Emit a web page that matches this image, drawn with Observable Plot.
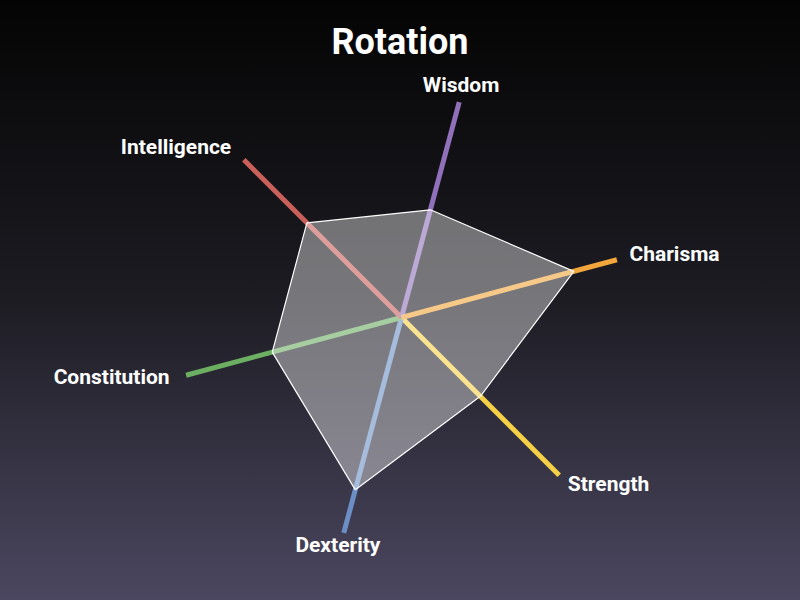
<!DOCTYPE html>
<html>
<head>
<meta charset="utf-8">
<script src="https://cdn.jsdelivr.net/npm/d3@7"></script>
<script src="https://cdn.jsdelivr.net/npm/@observablehq/plot@0.6"></script>
<style>
  html, body { margin: 0; padding: 0; }
  body {
    width: 800px; height: 600px; overflow: hidden; position: relative;
    background: linear-gradient(to bottom, #040404 0%, #1d1c23 50%, #4b4760 100%);
    font-family: Roboto, "Noto Sans", sans-serif;
  }
  #title {
    position: absolute; left: 0; top: 20px; width: 800px; text-align: center;
    color: #fff; font-weight: 700; font-size: 36px; line-height: 44px;
  }
  #chart { position: absolute; left: 0; top: 0; }
</style>
</head>
<body>
<div id="chart"></div>
<div id="title">Rotation</div>
<script>
const axes = ["Strength", "Dexterity", "Constitution", "Intelligence", "Wisdom", "Charisma"];
const values = [5, 8, 6, 6, 5, 8];
const maxValue = 10;
const axisColors = ["#f6d046", "#6b8fc5", "#6cae62", "#c9605b", "#9170bb", "#f2a63b"];
const rotationDeg = 135;

const n = axes.length;
const angle = i => (rotationDeg + i * 360 / n) * Math.PI / 180;

const spokes = axes.map((name, i) => ({
  name, color: axisColors[i],
  x: Math.sin(angle(i)), y: Math.cos(angle(i))
}));
const poly = axes.map((name, i) => ({
  name, x: values[i] / maxValue * Math.sin(angle(i)), y: values[i] / maxValue * Math.cos(angle(i))
}));
const labelR = 238 / 223;
const labels = spokes.map(s => ({
  name: s.name, x: s.x * labelR, y: s.y * labelR,
  anchor: Math.abs(s.x) < 0.3 ? "middle" : (s.x > 0 ? "start" : "end")
}));

const R = 223, cx = 401, cy = 317;
const chart = Plot.plot({
  width: 800, height: 600,
  margin: 0,
  style: { background: "transparent", color: "#fff", fontFamily: "Roboto, sans-serif" },
  x: { domain: [-cx / R, (800 - cx) / R], axis: null },
  y: { domain: [-(600 - cy) / R, cy / R], axis: null },
  color: { type: "identity" },
  marks: [
    Plot.link(spokes, { x1: 0, y1: 0, x2: "x", y2: "y", stroke: "color", strokeWidth: 5, strokeLinecap: "butt" }),
    Plot.line(poly, { x: "x", y: "y", curve: "linear-closed", fill: "white", fillOpacity: 0.4, stroke: "white", strokeWidth: 1.2, strokeLinejoin: "miter" }),
    ...["start", "middle", "end"].map(a =>
      Plot.text(labels.filter(l => l.anchor === a), { x: "x", y: "y", dx: -2, dy: -2, text: "name", textAnchor: a, fill: "white", fontSize: 21, fontWeight: 700 })
    )
  ]
});
document.getElementById("chart").appendChild(chart);
</script>
</body>
</html>
